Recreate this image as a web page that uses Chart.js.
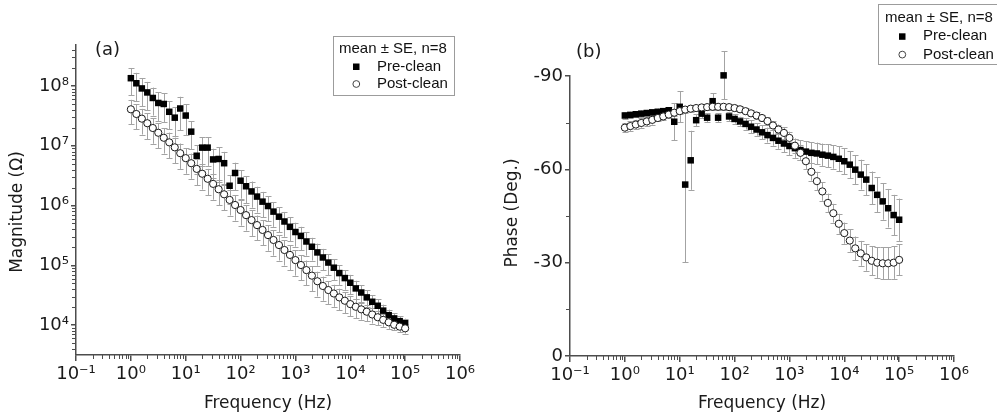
<!DOCTYPE html>
<html><head><meta charset="utf-8">
<script src="https://cdn.jsdelivr.net/npm/chart.js"></script>
<style>
html,body{margin:0;padding:0;background:#fff;overflow:hidden}
#wrap{position:relative;width:997px;height:419px;background:#fff}
canvas{position:absolute;top:0}
#ca{left:0}
#cb{left:498px}
</style></head><body>
<div id="wrap"><canvas id="ca" width="498" height="419"></canvas><canvas id="cb" width="499" height="419"></canvas></div>
<script>
// ---------------- data ----------------
const freq = [1, 1.259, 1.585, 1.995, 2.512, 3.162, 3.981, 5.012, 6.310, 7.943,
  10, 12.59, 15.85, 19.95, 25.12, 31.62, 39.81, 50.12, 63.10, 79.43,
  100, 125.9, 158.5, 199.5, 251.2, 316.2, 398.1, 501.2, 631.0, 794.3,
  1000, 1259, 1585, 1995, 2512, 3162, 3981, 5012, 6310, 7943,
  10000, 12590, 15850, 19950, 25120, 31620, 39810, 50120, 63100, 79430,
  100000];

const seriesNames = ['Pre-clean', 'Post-clean'];
const legendTitle = 'mean \u00b1 SE, n=8';

const preMag = [1.35e8, 1.11e8, 9.1e7, 7.8e7, 6.3e7, 5.2e7, 5.0e7, 3.7e7, 2.95e7, 4.2e7,
  3.2e7, 1.72e7, 6.8e6, 9.3e6, 9.3e6, 5.9e6, 6.0e6, 5.1e6, 2.14e6, 3.5e6,
  2.6e6, 2.1e6, 1.72e6, 1.41e6, 1.16e6, 9.8e5, 7.9e5, 6.5e5, 5.4e5, 4.4e5,
  3.6e5, 3.1e5, 2.5e5, 2.04e5, 1.64e5, 1.35e5, 1.11e5, 9.1e4, 7.4e4, 6.1e4,
  5.1e4, 4.1e4, 3.5e4, 2.9e4, 2.45e4, 2.1e4, 1.74e4, 1.46e4, 1.29e4, 1.16e4,
  1.07e4];
const preMagSE = [6.5e7, 5.5e7, 4.5e7, 3.9e7, 3.1e7, 2.6e7, 2.5e7, 1.8e7, 1.5e7, 2.4e7,
  1.7e7, 8.5e6, 3.4e6, 4.7e6, 4.7e6, 3.0e6, 3.5e6, 2.8e6, 1.1e6, 1.7e6,
  1.3e6, 1.0e6, 8.0e5, 6.5e5, 5.3e5, 4.4e5, 3.5e5, 2.9e5, 2.4e5, 1.9e5,
  1.55e5, 1.3e5, 1.05e5, 8.4e4, 6.6e4, 5.3e4, 4.3e4, 3.4e4, 2.7e4, 2.2e4,
  1.8e4, 1.4e4, 1.15e4, 9.0e3, 7.3e3, 5.9e3, 4.5e3, 3.5e3, 2.9e3, 2.4e3,
  2.1e3];
const postMag = [4.07e7, 3.40e7, 2.84e7, 2.38e7, 1.98e7, 1.65e7, 1.36e7, 1.14e7, 9.4e6, 7.5e6,
  6.2e6, 5.1e6, 4.1e6, 3.4e6, 2.8e6, 2.3e6, 1.87e6, 1.54e6, 1.24e6, 1.02e6,
  8.4e5, 6.9e5, 5.7e5, 4.7e5, 3.9e5, 3.2e5, 2.65e5, 2.18e5, 1.8e5, 1.49e5,
  1.22e5, 1.01e5, 8.3e4, 6.7e4, 5.4e4, 4.5e4, 3.85e4, 3.37e4, 2.9e4, 2.55e4,
  2.24e4, 2.02e4, 1.83e4, 1.67e4, 1.5e4, 1.35e4, 1.22e4, 1.11e4, 1.01e4, 9.4e3,
  8.8e3];
const postMagSE = [1.8e7, 1.5e7, 1.3e7, 1.1e7, 9.0e6, 7.5e6, 6.2e6, 5.2e6, 4.3e6, 3.4e6,
  2.8e6, 2.3e6, 1.9e6, 1.55e6, 1.3e6, 1.05e6, 8.5e5, 7.0e5, 5.6e5, 4.6e5,
  3.8e5, 3.1e5, 2.6e5, 2.1e5, 1.75e5, 1.45e5, 1.2e5, 9.8e4, 8.1e4, 6.7e4,
  5.5e4, 4.5e4, 3.7e4, 3.0e4, 2.4e4, 1.95e4, 1.6e4, 1.35e4, 1.15e4, 9.7e3,
  8.3e3, 7.1e3, 6.0e3, 5.2e3, 4.4e3, 3.6e3, 3.0e3, 2.5e3, 2.0e3, 1.8e3,
  1.6e3];

const prePhase = [-77.3, -77.5, -77.7, -77.9, -78.1, -78.3, -78.5, -78.7, -79.0, -75.3,
  -80.1, -55.1, -62.9, -75.8, -77.9, -76.6, -81.9, -76.6, -90.2, -77.0,
  -76.2, -75.4, -74.6, -73.7, -72.8, -71.9, -71.0, -70.1, -69.2, -68.3,
  -67.5, -66.8, -66.2, -65.7, -65.3, -65.1, -64.7, -64.4, -64.0, -63.4,
  -62.6, -61.5, -59.9, -58.3, -56.7, -54.0, -51.8, -49.7, -47.5, -45.3,
  -43.8];
const prePhaseSE = [1.0, 1.0, 1.0, 1.0, 1.0, 1.0, 1.0, 1.0, 1.0, 6.0,
  5.0, 25.0, 9.5, 2.0, 1.5, 1.5, 2.5, 1.5, 7.7, 1.5,
  1.5, 1.5, 1.8, 2.0, 2.0, 2.2, 2.4, 2.5, 2.6, 2.8,
  3.0, 3.1, 3.2, 3.3, 3.4, 3.5, 3.6, 3.7, 3.8, 4.0,
  4.2, 4.4, 4.6, 4.8, 5.0, 5.3, 5.6, 5.9, 6.2, 6.5,
  6.8];
const postPhase = [-73.4, -73.9, -74.4, -74.9, -75.4, -75.9, -76.5, -77.0, -77.6, -78.2,
  -78.7, -79.2, -79.5, -79.7, -79.9, -80.0, -80.1, -80.1, -80.1, -80.0,
  -79.7, -79.3, -78.7, -78.0, -77.3, -76.5, -75.5, -74.1, -72.8, -71.7,
  -70.1, -67.6, -65.3, -62.6, -59.2, -56.2, -52.9, -49.2, -45.9, -42.5,
  -39.5, -37.1, -34.6, -33.0, -31.7, -30.6, -30.0, -29.8, -29.8, -30.0,
  -30.9];
const postPhaseSE = [1.5, 1.5, 1.5, 1.5, 1.5, 1.5, 1.0, 1.0, 1.0, 1.0,
  1.0, 1.0, 1.0, 1.0, 1.0, 1.0, 1.0, 1.0, 1.0, 1.0,
  1.0, 1.0, 1.0, 1.0, 1.0, 1.0, 1.2, 1.4, 1.6, 1.8,
  2.0, 2.2, 2.4, 2.6, 2.8, 3.0, 3.0, 3.0, 3.0, 3.2,
  3.4, 3.6, 3.8, 4.0, 4.3, 4.6, 4.9, 5.1, 5.2, 5.2,
  5.0];

// tick labels / values
const freqTicks = [0.1, 1, 10, 100, 1000, 10000, 100000, 1000000];
const magTicks = [1e4, 1e5, 1e6, 1e7, 1e8];
const phaseTicks = [-90, -60, -30, 0];
const phaseMinorTicks = [-75, -45, -15];
const xTitle = 'Frequency (Hz)';
const magTitle = 'Magnitude (\u03a9)';
const phaseTitle = 'Phase (Deg.)';

// ---------------- helpers ----------------
Chart.defaults.font.family = "'DejaVu Sans', sans-serif";
Chart.defaults.color = '#1a1a1a';
const AXIS = '#4d4d4d';
const SUP = {'-':'\u207b','0':'\u2070','1':'\u00b9','2':'\u00b2','3':'\u00b3','4':'\u2074','5':'\u2075','6':'\u2076','7':'\u2077','8':'\u2078','9':'\u2079'};
function powLabel(v) {
  const e = Math.round(Math.log10(v));
  return '10' + String(e).split('').map(c => SUP[c]).join('');
}
function logMinor(lo, hi) {
  const out = [];
  for (let e = lo; e <= hi; e++) for (let k = 2; k <= 9; k++) out.push(k * Math.pow(10, e));
  return out;
}
const pts = (ys) => freq.map((f, i) => ({x: f, y: ys[i]}));

const decor = {
  id: 'decor',
  beforeDatasetsDraw(chart) {
    const ctx = chart.ctx, xs = chart.scales.x, ys = chart.scales.y;
    ctx.save();
    ctx.strokeStyle = '#a3a3a3';
    ctx.lineWidth = 1;
    chart.data.datasets.forEach(ds => {
      if (!ds.err) return;
      ds.data.forEach((p, i) => {
        const e = ds.err[i];
        const x = Math.round(xs.getPixelForValue(p.x)) + 0.5;
        const y1 = ys.getPixelForValue(p.y - e), y2 = ys.getPixelForValue(p.y + e);
        ctx.beginPath();
        ctx.moveTo(x, y1); ctx.lineTo(x, y2);
        ctx.moveTo(x - 3, Math.round(y1) + 0.5); ctx.lineTo(x + 3, Math.round(y1) + 0.5);
        ctx.moveTo(x - 3, Math.round(y2) + 0.5); ctx.lineTo(x + 3, Math.round(y2) + 0.5);
        ctx.stroke();
      });
    });
    ctx.restore();
  },
  afterDraw(chart, args, o) {
    const ctx = chart.ctx, xs = chart.scales.x, ys = chart.scales.y;
    ctx.save();
    ctx.strokeStyle = AXIS;
    ctx.lineWidth = 1;
    // minor ticks
    o.xMinor.forEach(v => {
      if (v <= xs.min || v >= xs.max) return;
      const p = Math.round(xs.getPixelForValue(v)) + 0.5;
      ctx.beginPath(); ctx.moveTo(p, xs.top); ctx.lineTo(p, xs.top + 4); ctx.stroke();
    });
    o.yMinor.forEach(v => {
      if (v <= ys.min || v >= ys.max) return;
      const p = Math.round(ys.getPixelForValue(v)) + 0.5;
      ctx.beginPath(); ctx.moveTo(ys.right, p); ctx.lineTo(ys.right - 4, p); ctx.stroke();
    });
    // y title
    ctx.fillStyle = '#1a1a1a';
    ctx.font = "17px 'DejaVu Sans'";
    ctx.textAlign = 'center';
    ctx.textBaseline = 'middle';
    ctx.save();
    ctx.translate(o.yTitleX, o.yTitleY);
    ctx.rotate(-Math.PI / 2);
    ctx.fillText(o.yTitle, 0, 0);
    ctx.restore();
    // panel label
    ctx.textAlign = 'left';
    ctx.font = "18px 'DejaVu Sans'";
    ctx.fillText(o.panel, o.panelX, o.panelY);
    // legend
    const L = o.legend;
    ctx.fillStyle = '#fff';
    ctx.fillRect(L.x, L.y, L.w, L.h);
    ctx.strokeStyle = '#9c9c9c';
    ctx.strokeRect(L.x + 0.5, L.y + 0.5, L.w, L.h);
    ctx.fillStyle = '#111';
    ctx.font = "15px 'Liberation Sans'";
    ctx.textBaseline = 'middle';
    ctx.fillText(legendTitle, L.tx, L.ty);
    ctx.fillText(seriesNames[0], L.lx, L.ty + L.dy);
    ctx.fillText(seriesNames[1], L.lx, L.ty + 2 * L.dy);
    ctx.fillStyle = '#000';
    ctx.fillRect(L.mx - 3, L.ty + L.dy - 3, 6.5, 6.5);
    ctx.beginPath();
    ctx.arc(L.mx + 0.3, L.ty + 2 * L.dy, 3.4, 0, Math.PI * 2);
    ctx.fillStyle = '#fff'; ctx.fill();
    ctx.strokeStyle = '#444'; ctx.lineWidth = 1; ctx.stroke();
    ctx.restore();
  }
};

function axisCommon(extra) {
  return Object.assign({
    grid: {drawOnChartArea: false, drawTicks: true, tickLength: 6, color: AXIS, tickColor: AXIS, lineWidth: 1.5},
    border: {display: true, color: AXIS, width: 1.5},
  }, extra);
}

function datasets(pre, preSE, post, postSE) {
  return [
    {label: seriesNames[0], data: pts(pre), err: preSE, pointStyle: 'rect', pointRadius: 4.6, pointHoverRadius: 4.6,
     backgroundColor: '#000', borderColor: '#000', borderWidth: 0, showLine: false, clip: false, order: 2},
    {label: seriesNames[1], data: pts(post), err: postSE, pointStyle: 'circle', pointRadius: 3.6, pointHoverRadius: 3.6,
     backgroundColor: '#fff', borderColor: '#1a1a1a', borderWidth: 1, showLine: false, clip: false, order: 1}
  ];
}

function xAxis(h) {
  return axisCommon({
    type: 'logarithmic', position: 'bottom', min: 0.1, max: 1e6,
    afterFit: s => { s.height = h; },
    afterBuildTicks: s => { s.ticks = freqTicks.map(v => ({value: v})); },
    ticks: {callback: v => powLabel(v), font: {size: 18}, color: '#1a1a1a', padding: 3, maxRotation: 0, autoSkip: false},
    title: {display: true, text: xTitle, font: {size: 17}, color: '#1a1a1a', padding: {top: 0, bottom: 5}}
  });
}

// ---------------- chart (a) ----------------
new Chart(document.getElementById('ca'), {
  type: 'scatter',
  data: {datasets: datasets(preMag, preMagSE, postMag, postMagSE)},
  options: {
    responsive: false, animation: false, devicePixelRatio: 1,
    layout: {padding: {left: 0, right: 38, top: 45, bottom: 0}},
    plugins: {
      legend: {display: false}, tooltip: {enabled: false},
      decor: {xMinor: logMinor(-1, 5), yMinor: logMinor(3, 8), yTitle: magTitle, yTitleX: 18, yTitleY: 212,
        panel: '(a)', panelX: 95, panelY: 50,
        legend: {x: 333, y: 36, w: 121, h: 59, tx: 339, ty: 49, lx: 377, mx: 356, dy: 17.5}}
    },
    scales: {
      x: xAxis(64),
      y: axisCommon({
        type: 'logarithmic', position: 'left', min: 3150, max: 4.85e8,
        afterFit: s => { s.width = 76; },
        afterBuildTicks: s => { s.ticks = magTicks.map(v => ({value: v})); },
        ticks: {callback: v => powLabel(v), font: {size: 18}, color: '#1a1a1a', padding: 2, autoSkip: false},
        grid: {drawOnChartArea: false, drawTicks: true, tickLength: 5, color: AXIS, tickColor: AXIS, lineWidth: 1.5}
      })
    }
  },
  plugins: [decor]
});

// ---------------- chart (b) ----------------
new Chart(document.getElementById('cb'), {
  type: 'scatter',
  data: {datasets: datasets(prePhase, prePhaseSE, postPhase, postPhaseSE)},
  options: {
    responsive: false, animation: false, devicePixelRatio: 1,
    layout: {padding: {left: 0, right: 43, top: 76, bottom: 0}},
    plugins: {
      legend: {display: false}, tooltip: {enabled: false},
      decor: {xMinor: logMinor(-1, 5), yMinor: phaseMinorTicks, yTitle: phaseTitle, yTitleX: 15, yTitleY: 213,
        panel: '(b)', panelX: 78, panelY: 52,
        legend: {x: 380, y: 4, w: 125, h: 60, tx: 387, ty: 18, lx: 425, mx: 404, dy: 18.3}}
    },
    scales: {
      x: xAxis(63),
      y: axisCommon({
        type: 'linear', position: 'left', min: -90, max: 0, reverse: true,
        afterFit: s => { s.width = 72; },
        afterBuildTicks: s => { s.ticks = phaseTicks.map(v => ({value: v})); },
        ticks: {font: {size: 18}, color: '#1a1a1a', padding: 2, autoSkip: false},
        grid: {drawOnChartArea: false, drawTicks: true, tickLength: 5, color: AXIS, tickColor: AXIS, lineWidth: 1.5}
      })
    }
  },
  plugins: [decor]
});
</script>
</body></html>
